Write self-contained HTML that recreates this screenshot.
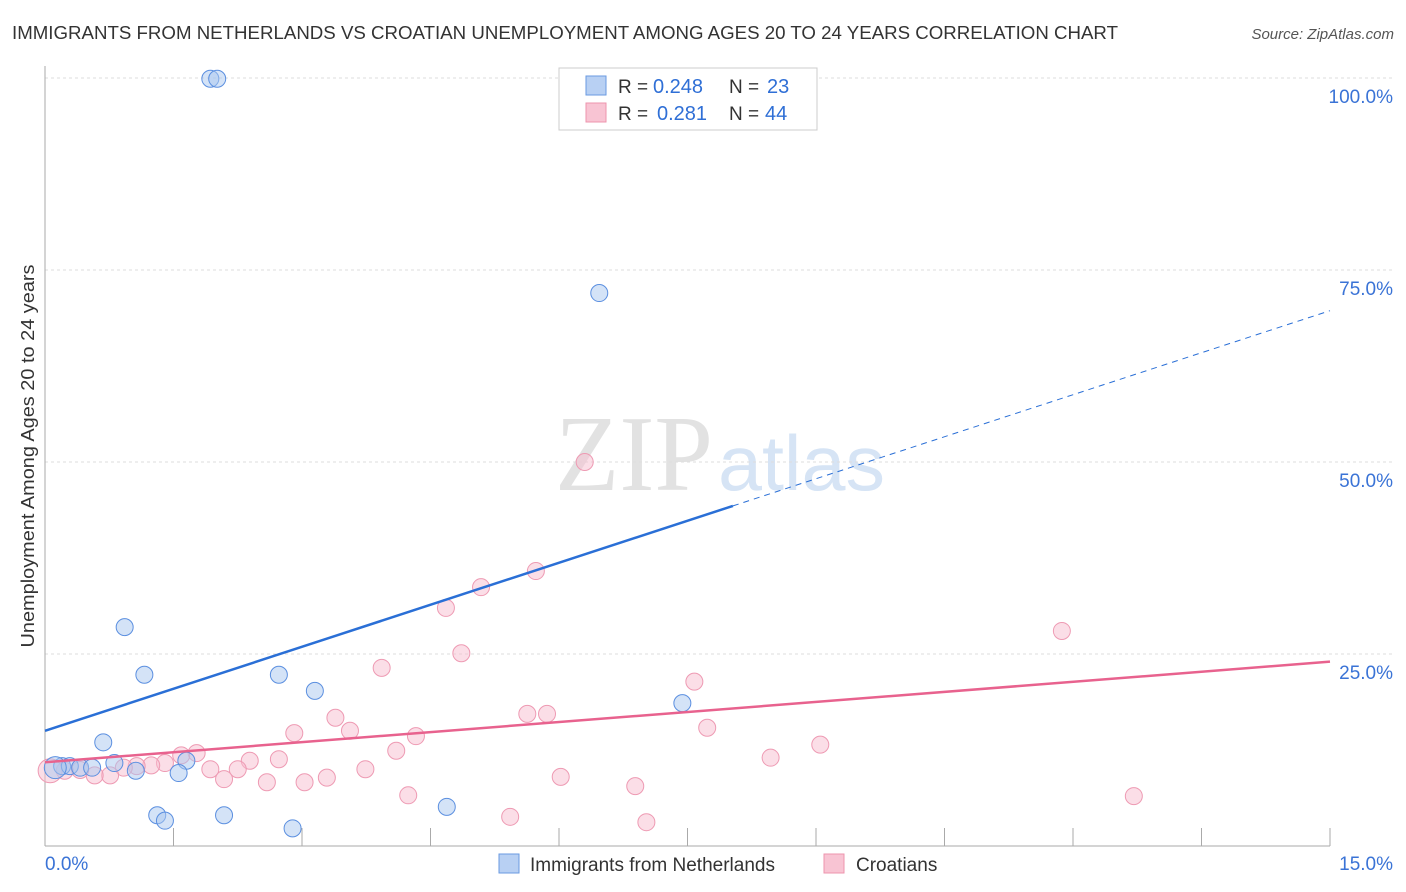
<!DOCTYPE html>
<html><head><meta charset="utf-8"><style>
body{margin:0;background:#fff;font-family:"Liberation Sans",sans-serif;}
svg{display:block}
</style></head><body>
<svg id="chart" width="1406" height="892">
<text x="12" y="39" font-size="18" fill="#333" textLength="1106" lengthAdjust="spacingAndGlyphs">IMMIGRANTS FROM NETHERLANDS VS CROATIAN UNEMPLOYMENT AMONG AGES 20 TO 24 YEARS CORRELATION CHART</text>
<text x="1394" y="39" font-size="15" fill="#555" font-style="italic" text-anchor="end">Source: ZipAtlas.com</text>
<text x="555" y="490" font-size="108" fill="#e2e2e2" textLength="158" lengthAdjust="spacingAndGlyphs" font-family="Liberation Serif,serif">ZIP</text>
<text x="718" y="490" font-size="78" fill="#d6e4f5" textLength="167" lengthAdjust="spacingAndGlyphs">atlas</text>
<text transform="translate(34,456) rotate(-90)" font-size="18" fill="#333" text-anchor="middle" textLength="383" lengthAdjust="spacingAndGlyphs">Unemployment Among Ages 20 to 24 years</text>
<g id="grid"></g><g id="marks"></g>
<g>
<rect x="559" y="68" width="258" height="62" fill="#fff" stroke="#ccc"/>
<rect x="586" y="76" width="20" height="19" fill="#b8d0f3" stroke="#6a9ae0"/>
<rect x="586" y="103" width="20" height="19" fill="#f8c4d3" stroke="#ee94ae"/>
<text x="618" y="93" font-size="19" fill="#333">R =</text>
<text x="653" y="93" font-size="20" fill="#2f6fd6">0.248</text>
<text x="729" y="93" font-size="19" fill="#333">N =</text>
<text x="767" y="93" font-size="20" fill="#2f6fd6">23</text>
<text x="618" y="120" font-size="19" fill="#333">R =</text>
<text x="657" y="120" font-size="20" fill="#2f6fd6">0.281</text>
<text x="729" y="120" font-size="19" fill="#333">N =</text>
<text x="765" y="120" font-size="20" fill="#2f6fd6">44</text>
</g>
<g>
<rect x="499" y="854" width="20" height="19" fill="#b8d0f3" stroke="#6a9ae0"/>
<text x="530" y="871" font-size="19" fill="#333">Immigrants from Netherlands</text>
<rect x="824" y="854" width="20" height="19" fill="#f8c4d3" stroke="#ee94ae"/>
<text x="856" y="871" font-size="19" fill="#333">Croatians</text>
</g>
</svg>
<script>
const yTicks=[25,50,75,100];
const yTickLabels=["25.0%","50.0%","75.0%","100.0%"];
const xTicks=[0,1.5,3,4.5,6,7.5,9,10.5,12,13.5,15];
const blueX=[1.93,2.01,6.47,0.93,1.16,2.73,3.15,0.68,0.81,1.65,0.20,0.29,0.41,0.55,1.06,1.56,1.31,1.40,2.09,2.89,4.69,7.44,0.12];
const blueY=[99.9,99.9,72.0,28.5,22.3,22.3,20.2,13.5,10.8,11.1,10.4,10.4,10.2,10.2,9.8,9.5,4.0,3.3,4.0,2.3,5.1,18.6,10.2];
const pinkX=[6.30,5.73,5.09,4.68,4.86,3.93,3.39,3.56,2.91,4.33,4.10,2.39,2.73,1.77,1.59,1.40,1.24,1.07,0.92,0.76,0.58,0.41,0.23,0.06,1.93,2.25,2.09,2.59,3.03,3.29,3.74,4.24,5.43,5.63,5.86,6.02,6.89,7.02,7.58,7.73,8.47,9.05,11.87,12.71];
const pinkY=[50,35.8,33.7,31.0,25.1,23.2,16.7,15.0,14.7,14.3,12.4,11.1,11.3,12.1,11.8,10.8,10.5,10.4,10.2,9.2,9.2,9.9,9.8,9.8,10.0,10.0,8.7,8.3,8.3,8.9,10.0,6.6,3.8,17.2,17.2,9.0,7.8,3.1,21.4,15.4,11.5,13.2,28.0,6.5];
const blueTrend=[15.0,69.7];
const blueSolidEnd=8.03;
const pinkTrend=[10.9,24.0];
const NS="http://www.w3.org/2000/svg";
const sx=v=>45+v*(1285/15);
const sy=v=>846-v*7.68;
function mk(tag,attrs,parent){const e=document.createElementNS(NS,tag);for(const k in attrs)e.setAttribute(k,attrs[k]);parent.appendChild(e);return e;}
const grid=document.getElementById('grid'),marks=document.getElementById('marks');
yTicks.forEach((t,i)=>{
 const l=mk('line',{x1:45,x2:1394,y1:sy(t),y2:sy(t),stroke:'#ddd','stroke-dasharray':'3,3'},grid);
 
 
 const tx=mk('text',{x:1393,y:sy(t)+25,'font-size':19,fill:'#3a73d6','text-anchor':'end'},grid);
 tx.textContent=yTickLabels[i];
 
 
});
const ax=mk('line',{x1:45,x2:1330,y1:846,y2:846,stroke:'#aaa'},grid);


const ay=mk('line',{x1:45,x2:45,y1:66,y2:846,stroke:'#aaa'},grid);


xTicks.forEach(t=>{
 const l=mk('line',{x1:sx(t),x2:sx(t),y1:828,y2:846,stroke:'#aaa'},grid);
 
 
});
const x0=mk('text',{x:45,y:870,'font-size':19,fill:'#3a73d6'},grid);x0.textContent='0.0%';


const x1=mk('text',{x:1393,y:870,'font-size':19,fill:'#3a73d6','text-anchor':'end'},grid);x1.textContent='15.0%';


pinkX.forEach((x,i)=>{
 const c=mk('circle',{cx:sx(x),cy:sy(pinkY[i]),r:i==23?12:8.5,fill:'rgba(248,190,207,0.5)',stroke:'#ee9ab3','stroke-width':1},marks);
 
 
});
blueX.forEach((x,i)=>{
 const c=mk('circle',{cx:sx(x),cy:sy(blueY[i]),r:i==22?11:8.5,fill:'rgba(170,200,240,0.5)',stroke:'#5b8fe0','stroke-width':1},marks);
 
 
});
const bf=v=>blueTrend[0]+(blueTrend[1]-blueTrend[0])*v/15;
const bl=mk('line',{x1:sx(0),y1:sy(bf(0)),x2:sx(blueSolidEnd),y2:sy(bf(blueSolidEnd)),stroke:'#2a6fd6','stroke-width':2.5},marks);


const bd=mk('line',{x1:sx(blueSolidEnd),y1:sy(bf(blueSolidEnd)),x2:sx(15),y2:sy(bf(15)),stroke:'#2a6fd6','stroke-width':1,'stroke-dasharray':'6,5'},marks);


const pl=mk('line',{x1:sx(0),y1:sy(pinkTrend[0]),x2:sx(15),y2:sy(pinkTrend[1]),stroke:'#e8628e','stroke-width':2.5},marks);


</script>
</body></html>
